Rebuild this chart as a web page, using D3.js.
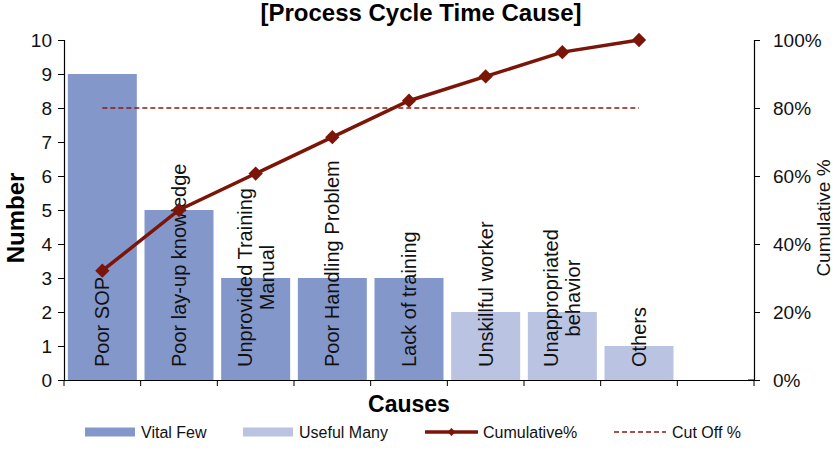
<!DOCTYPE html>
<html>
<head>
<meta charset="utf-8">
<script src="https://cdn.jsdelivr.net/npm/d3@7"></script>
<style>
  body { margin: 0; background: #fff; }
  svg { font-family: "Liberation Sans", Arial, sans-serif; }
</style>
</head>
<body>
<div id="vis1"></div>
<script>
// data
const CAUSES = [
  ["Poor SOP"],
  ["Poor lay-up knowledge"],
  ["Unprovided Training", "Manual"],
  ["Poor Handling Problem"],
  ["Lack of training"],
  ["Unskillful worker"],
  ["Unappropriated", "behavior"],
  ["Others"]
];
const COUNTS = [9, 5, 3, 3, 3, 2, 2, 1];
const GROUPS = ["Vital Few", "Vital Few", "Vital Few", "Vital Few", "Vital Few",
                "Useful Many", "Useful Many", "Useful Many"];
const CUT_OFF = 0.8;
const LEFT_TICKS = [0, 1, 2, 3, 4, 5, 6, 7, 8, 9, 10];
const RIGHT_TICKS = [0, 0.2, 0.4, 0.6, 0.8, 1.0];

// frame
const FRAME_WIDTH = 838;
const FRAME_HEIGHT = 460;
const MARGINS = {left: 64, right: 84, top: 40, bottom: 80};
const VIS_WIDTH = FRAME_WIDTH - MARGINS.left - MARGINS.right;
const VIS_HEIGHT = FRAME_HEIGHT - MARGINS.top - MARGINS.bottom;

const COLORS = {"Vital Few": "#8497cb", "Useful Many": "#bac4e2"};
const LINE_COLOR = "#7a1508";
const CUT_COLOR = "#8b1a0c";

const FRAME1 = d3.select("#vis1")
  .append("svg")
    .attr("width", FRAME_WIDTH)
    .attr("height", FRAME_HEIGHT);

const total = d3.sum(COUNTS);
const cumulative = d3.cumsum(COUNTS).map(v => v / total);

// one empty slot after "Others"
const slots = d3.range(COUNTS.length + 1);

const x = d3.scaleBand()
  .domain(slots)
  .range([0, VIS_WIDTH])
  .padding(0);

const yLeft = d3.scaleLinear().domain([0, 10]).range([VIS_HEIGHT, 0]);
const yRight = d3.scaleLinear().domain([0, 1]).range([VIS_HEIGHT, 0]);

const plot = FRAME1.append("g")
  .attr("transform", `translate(${MARGINS.left},${MARGINS.top})`);

// bars
const bw = x.bandwidth();
plot.selectAll(".bar")
  .data(COUNTS)
  .enter()
  .append("rect")
    .attr("class", "bar")
    .attr("x", (d, i) => x(i) + bw * 0.05)
    .attr("y", d => yLeft(d))
    .attr("width", bw * 0.9)
    .attr("height", d => VIS_HEIGHT - yLeft(d))
    .attr("fill", (d, i) => COLORS[GROUPS[i]]);

// category labels, rotated inside the bars
const labels = plot.selectAll(".cat")
  .data(CAUSES)
  .enter()
  .append("g")
    .attr("class", "cat")
    .attr("transform", (d, i) => `translate(${x(i) + bw / 2},${VIS_HEIGHT - 13}) rotate(-90)`);

labels.each(function(lines) {
  const g = d3.select(this);
  const t = g.append("text")
    .attr("font-size", 20)
    .attr("fill", "#111")
    .attr("text-anchor", "middle");
  const n = lines.length;
  lines.forEach((ln, k) => {
    t.append("tspan")
      .attr("x", 0)
      .attr("y", (k - (n - 1) / 2) * 22)
      .attr("dy", "0.35em")
      .text(ln);
  });
  let maxLen = 0;
  t.selectAll("tspan").each(function() {
    maxLen = Math.max(maxLen, this.getComputedTextLength());
  });
  t.selectAll("tspan").attr("x", maxLen / 2);
});

// cut off line
plot.append("line")
  .attr("x1", x(0) + bw / 2)
  .attr("x2", x(COUNTS.length - 1) + bw / 2)
  .attr("y1", yRight(CUT_OFF))
  .attr("y2", yRight(CUT_OFF))
  .attr("stroke", CUT_COLOR)
  .attr("stroke-width", 1.6)
  .attr("stroke-dasharray", "5,3");

// cumulative line
const line = d3.line()
  .x((d, i) => x(i) + bw / 2)
  .y(d => yRight(d));

plot.append("path")
  .datum(cumulative)
  .attr("d", line)
  .attr("fill", "none")
  .attr("stroke", LINE_COLOR)
  .attr("stroke-width", 3.5);

const diamond = d3.symbol().type(d3.symbolDiamond2).size(130);
plot.selectAll(".pt")
  .data(cumulative)
  .enter()
  .append("path")
    .attr("class", "pt")
    .attr("d", diamond)
    .attr("transform", (d, i) => `translate(${x(i) + bw / 2},${yRight(d)})`)
    .attr("fill", LINE_COLOR);

// axes
const axisLeft = plot.append("g")
  .call(d3.axisLeft(yLeft).tickValues(LEFT_TICKS).tickSize(6).tickPadding(6));

const axisRight = plot.append("g")
  .attr("transform", `translate(${VIS_WIDTH},0)`)
  .call(d3.axisRight(yRight).tickValues(RIGHT_TICKS).tickSize(6).tickPadding(13)
    .tickFormat(d3.format(".0%")));

const axisBottom = plot.append("g")
  .attr("transform", `translate(0,${VIS_HEIGHT})`)
  .call(d3.axisBottom(x).tickSize(0).tickFormat(""));

// band boundary ticks on the x axis
axisBottom.selectAll(".btick")
  .data(d3.range(COUNTS.length + 2))
  .enter()
  .append("line")
    .attr("class", "btick")
    .attr("x1", i => i * bw)
    .attr("x2", i => i * bw)
    .attr("y1", 0)
    .attr("y2", 6)
    .attr("stroke", "#000");

[axisLeft, axisRight, axisBottom].forEach(a => {
  a.select(".domain").attr("stroke", "#000").attr("stroke-width", 1.2);
  a.selectAll(".tick line").attr("stroke", "#000");
  a.selectAll("text")
    .attr("font-size", 19)
    .attr("font-family", "Liberation Sans, Arial, sans-serif")
    .attr("fill", "#111");
});
// little tick left of the right axis at 0%
axisRight.append("line")
  .attr("x1", -6).attr("x2", 0)
  .attr("y1", VIS_HEIGHT).attr("y2", VIS_HEIGHT)
  .attr("stroke", "#000");

// titles
FRAME1.append("text")
  .attr("x", 421)
  .attr("y", 21)
  .attr("text-anchor", "middle")
  .attr("font-size", 24)
  .attr("font-weight", "bold")
  .text("[Process Cycle Time Cause]");

FRAME1.append("text")
  .attr("x", MARGINS.left + VIS_WIDTH / 2)
  .attr("y", 412)
  .attr("text-anchor", "middle")
  .attr("font-size", 23)
  .attr("font-weight", "bold")
  .text("Causes");

FRAME1.append("text")
  .attr("transform", "translate(24,218) rotate(-90)")
  .attr("text-anchor", "middle")
  .attr("font-size", 24)
  .attr("font-weight", "bold")
  .text("Number");

FRAME1.append("text")
  .attr("transform", "translate(830,218) rotate(-90)")
  .attr("text-anchor", "middle")
  .attr("font-size", 19)
  .attr("fill", "#111")
  .text("Cumulative %");

// legend
const LEGEND = [
  {name: "Vital Few", x: 85, kind: "bar"},
  {name: "Useful Many", x: 243, kind: "bar2"},
  {name: "Cumulative%", x: 425, kind: "line"},
  {name: "Cut Off %", x: 614, kind: "dash"}
];
const legend = FRAME1.append("g").attr("transform", "translate(0,432)");
LEGEND.forEach(item => {
  const g = legend.append("g").attr("transform", `translate(${item.x},0)`);
  if (item.kind === "bar" || item.kind === "bar2") {
    g.append("rect")
      .attr("x", 0).attr("y", -4.5)
      .attr("width", 50).attr("height", 9)
      .attr("fill", item.kind === "bar" ? COLORS["Vital Few"] : COLORS["Useful Many"]);
  } else if (item.kind === "line") {
    g.append("line")
      .attr("x1", 0).attr("x2", 53).attr("y1", 0).attr("y2", 0)
      .attr("stroke", LINE_COLOR).attr("stroke-width", 3.5);
    g.append("path")
      .attr("d", d3.symbol().type(d3.symbolDiamond2).size(40))
      .attr("transform", "translate(26.5,0)")
      .attr("fill", LINE_COLOR);
  } else {
    g.append("line")
      .attr("x1", 0).attr("x2", 52).attr("y1", 0).attr("y2", 0)
      .attr("stroke", CUT_COLOR).attr("stroke-width", 1.6)
      .attr("stroke-dasharray", "5,3");
  }
  g.append("text")
    .attr("x", item.kind.startsWith("bar") ? 56 : 58)
    .attr("y", 0)
    .attr("dy", "0.35em")
    .attr("font-size", 16)
    .attr("fill", "#111")
    .text(item.name);
});
</script>
</body>
</html>
